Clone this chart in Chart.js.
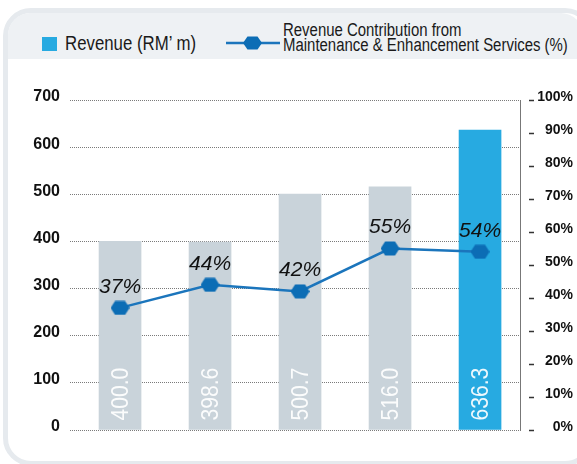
<!DOCTYPE html>
<html>
<head>
<meta charset="utf-8">
<script src="https://cdn.jsdelivr.net/npm/chart.js@4.4.0/dist/chart.umd.min.js"></script>
<style>
  body { margin: 0; width: 577px; height: 464px; background: #fff; position: relative; overflow: hidden;
         font-family: 'Liberation Sans', Arial, sans-serif; }
  #panel { position: absolute; left: 3px; top: 8px; width: 580px; height: 448px;
           border: 5px solid #e6eaee; border-radius: 28px; background: #fff; }
  #head { position: absolute; left: 8px; top: 13px; width: 575px; height: 46px; background: #eef1f4;
          border-radius: 22px 22px 0 0; }
  .sq { position: absolute; left: 42px; top: 37px; width: 15px; height: 14px; background: #27aae1; }
  .t1 { position: absolute; left: 65px; top: 32px; font-size: 20px; color: #1a1a1a; line-height: 22px;
        white-space: nowrap; transform: scaleX(0.84); transform-origin: 0 0; }
  .t2 { position: absolute; left: 283px; top: 23px; font-size: 18px; color: #1a1a1a; line-height: 15px;
        white-space: nowrap; transform: scaleX(0.83); transform-origin: 0 0; }
  #legline { position: absolute; left: 226px; top: 35px; }
  canvas { position: absolute; left: 0; top: 0; }
</style>
</head>
<body>
<div id="panel"></div>
<div id="head"></div>
<div class="sq"></div>
<div class="t1">Revenue (RM’ m)</div>
<svg id="legline" width="54" height="16">
  <line x1="0" y1="8" x2="54" y2="8" stroke="#1b75bc" stroke-width="2.5"/>
  <polygon points="17,8 21.5,1.5 31.5,1.5 36,8 31.5,14.5 21.5,14.5" fill="#0c6db5"/>
</svg>
<div class="t2">Revenue Contribution from<br>Maintenance &amp; Enhancement Services (%)</div>
<canvas id="c" width="577" height="464"></canvas>
<script>
const years = ['2012', '2013', '2014', '2015', '2016'];
const revenue = [400.0, 398.6, 500.7, 516.0, 636.3];
const revenueLabels = ['400.0', '398.6', '500.7', '516.0', '636.3'];
const contribution = [37, 44, 42, 55, 54];
const contributionLabels = ['37%', '44%', '42%', '55%', '54%'];
const barColors = ['#c9d3da', '#c9d3da', '#c9d3da', '#c9d3da', '#27aae1'];

const FONT = "'Liberation Sans', Arial, sans-serif";

// hexagon marker for the line points
const hex = document.createElement('canvas');
hex.width = 19;
hex.height = 15;
const hctx = hex.getContext('2d');
hctx.fillStyle = '#0c6db5';
hctx.beginPath();
hctx.moveTo(0, 7.5);
hctx.lineTo(4.5, 0.5);
hctx.lineTo(14.5, 0.5);
hctx.lineTo(19, 7.5);
hctx.lineTo(14.5, 14.5);
hctx.lineTo(4.5, 14.5);
hctx.closePath();
hctx.fill();

const labelPlugin = {
    id: 'labels',
    afterDatasetsDraw(chart) {
        const ctx = chart.ctx;
        const bars = chart.getDatasetMeta(1).data;
        ctx.save();
        ctx.fillStyle = 'rgba(255,255,255,0.92)';
        ctx.font = '24px ' + FONT;
        ctx.textAlign = 'left';
        ctx.textBaseline = 'middle';
        bars.forEach((bar, i) => {
            ctx.save();
            ctx.translate(bar.x, bar.base - 9);
            ctx.rotate(-Math.PI / 2);
            ctx.scale(0.88, 1); // narrow the text along its run
            ctx.fillText(revenueLabels[i], 0, 1);
            ctx.restore();
        });
        ctx.restore();

        const pts = chart.getDatasetMeta(0).data;
        ctx.save();
        ctx.fillStyle = '#111';
        ctx.font = 'italic 21px ' + FONT;
        ctx.textAlign = 'center';
        ctx.textBaseline = 'middle';
        pts.forEach((p, i) => {
            ctx.fillText(contributionLabels[i], p.x, p.y - 21);
        });
        ctx.restore();
    }
};

new Chart(document.getElementById('c'), {
    data: {
        datasets: [
            {
                type: 'line',
                data: contribution.map((v, i) => ({ x: i, y: v })),
                yAxisID: 'y2',
                borderColor: '#1b75bc',
                borderWidth: 2.5,
                pointStyle: hex,
                pointRadius: 8,
                order: 0
            },
            {
                type: 'bar',
                data: revenue.map((v, i) => ({ x: i, y: v })),
                yAxisID: 'y',
                backgroundColor: barColors,
                barThickness: 42,
                order: 1
            }
        ]
    },
    options: {
        responsive: false,
        animation: false,
        events: [],
        layout: { padding: { top: 100, right: 4, left: 0, bottom: 0 } },
        plugins: { legend: { display: false }, tooltip: { enabled: false } },
        scales: {
            x: {
                type: 'linear',
                min: -0.556,
                max: 4.444,
                afterFit: s => { s.height = 34; },
                grid: { display: false },
                border: { display: false },
                ticks: {
                    stepSize: 1,
                    includeBounds: false,
                    padding: 9,
                    color: '#111',
                    font: { family: FONT, size: 16, weight: 'bold' },
                    callback: v => years[v]
                }
            },
            y: {
                position: 'left',
                min: 0,
                max: 700,
                afterFit: s => { s.width = 70; },
                grid: { color: '#7a7a7a', drawTicks: false },
                border: { display: false, dash: [1, 1] },
                ticks: {
                    stepSize: 100,
                    padding: 10,
                    labelOffset: -3,
                    color: '#111',
                    font: { family: FONT, size: 16, weight: 'bold' }
                }
            },
            y2: {
                position: 'right',
                min: 0,
                max: 100,
                afterFit: s => { s.width = 53; },
                grid: {
                    drawOnChartArea: false,
                    tickLength: 14,
                    tickColor: '#333',
                    tickWidth: 1.5,
                    tickBorderDash: [0, 8, 6, 40]
                },
                border: { display: true, color: '#777', dash: [1, 1] },
                ticks: {
                    stepSize: 10,
                    padding: 4,
                    crossAlign: 'far',
                    labelOffset: -3,
                    color: '#111',
                    font: { family: FONT, size: 14, weight: 'bold' },
                    callback: v => v + '%'
                }
            }
        }
    },
    plugins: [labelPlugin]
});
</script>
</body>
</html>
